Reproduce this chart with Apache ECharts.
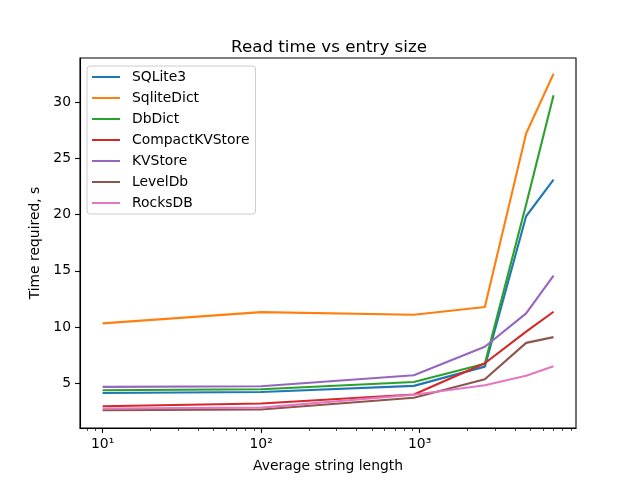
<!DOCTYPE html>
<html>
<head>
<meta charset="utf-8">
<script src="https://cdn.jsdelivr.net/npm/echarts@6/dist/echarts.min.js"></script>
<style>html,body{margin:0;padding:0;background:#fff}#c{width:640px;height:480px}</style>
</head>
<body>
<div id="c"></div>
<script>
const xValues = [10, 100, 920, 2580, 4700, 7000];
const seriesNames = ['SQLite3', 'SqliteDict', 'DbDict', 'CompactKVStore', 'KVStore', 'LevelDb', 'RocksDB'];
const sqlite3 = [4.16, 4.25, 4.79, 6.5, 19.85, 23.1];
const sqliteDict = [10.34, 11.34, 11.1, 11.8, 27.2, 32.5];
const dbDict = [4.4, 4.49, 5.14, 6.75, 20.9, 30.6];
const compactKVStore = [2.98, 3.22, 4.02, 6.8, 9.6, 11.37];
const kvStore = [4.7, 4.76, 5.74, 8.26, 11.23, 14.57];
const levelDb = [2.62, 2.69, 3.73, 5.38, 8.61, 9.12];
const rocksDB = [2.78, 2.86, 4.0, 4.85, 5.68, 6.54];
const xMajorTicks = [10, 100, 1000];
const xMinorTicks = [8, 9, 20, 30, 40, 50, 60, 70, 80, 90, 200, 300, 400, 500, 600, 700, 800, 900, 2000, 3000, 4000, 5000, 6000, 7000, 8000, 9000];
const yTicks = [5, 10, 15, 20, 25, 30];
const colors = ['#1f77b4', '#ff7f0e', '#2ca02c', '#d62728', '#9467bd', '#8c564b', '#e377c2'];

const allValues = [sqlite3, sqliteDict, dbDict, compactKVStore, kvStore, levelDb, rocksDB];
const font = 'DejaVu Sans';
const sup = {'1': '\u00b9', '2': '\u00b2', '3': '\u00b3'};

const chart = echarts.init(document.getElementById('c'), null, {renderer: 'canvas'});
const xMin = 7.2, xMax = 9700;
chart.setOption({
  backgroundColor: '#ffffff',
  animation: false,
  title: {
    text: 'Read time vs entry size',
    left: 324, top: 34, textAlign: 'center',
    textStyle: {fontFamily: font, fontSize: 16.7, fontWeight: 'normal', color: '#000'}
  },
  legend: {
    orient: 'vertical', left: 87, top: 66,
    data: seriesNames,
    itemWidth: 28, itemHeight: 2, itemGap: 7,
    icon: 'rect',
    padding: [4, 6, 4, 5],
    backgroundColor: '#fff', borderColor: '#cccccc', borderWidth: 1, borderRadius: 3,
    textStyle: {fontFamily: font, fontSize: 13.9, color: '#000', padding: [0, 0, 0, 7]}
  },
  grid: {left: 80, right: 64, top: 58, bottom: 52, show: true, borderColor: '#000', borderWidth: 1.1, backgroundColor: 'transparent'},
  xAxis: [{
    type: 'log', logBase: 10, min: xMin, max: xMax,
    name: 'Average string length', nameLocation: 'middle', nameGap: 31,
    nameTextStyle: {fontFamily: font, fontSize: 13.9, color: '#000'},
    axisLine: {lineStyle: {color: '#000', width: 1.1}},
    axisTick: {length: 4.9, lineStyle: {color: '#000', width: 1.1}, customValues: xMajorTicks},
    axisLabel: {fontFamily: font, fontSize: 13.9, color: '#000', margin: 9, customValues: xMajorTicks,
      formatter: v => '10' + sup[String(Math.round(Math.log10(v)))]},
    splitLine: {show: false}, minorTick: {show: false}
  }, {
    type: 'log', logBase: 10, min: xMin, max: xMax, position: 'bottom',
    axisLine: {show: false},
    axisTick: {length: 2.8, lineStyle: {color: '#000', width: 0.8}, customValues: xMinorTicks},
    axisLabel: {show: false},
    splitLine: {show: false}
  }],
  yAxis: {
    type: 'value', min: 1.05, max: 33.9,
    name: 'Time required, s', nameLocation: 'middle', nameGap: 34,
    nameTextStyle: {fontFamily: font, fontSize: 13.9, color: '#000'},
    axisLine: {show: true, lineStyle: {color: '#000', width: 1.1}},
    axisTick: {show: true, length: 4.9, lineStyle: {color: '#000', width: 1.1}, customValues: yTicks},
    axisLabel: {fontFamily: font, fontSize: 13.9, color: '#000', margin: 9, customValues: yTicks},
    splitLine: {show: false}
  },
  series: seriesNames.map((name, i) => ({
    name, type: 'line', xAxisIndex: 0,
    data: xValues.map((x, j) => [x, allValues[i][j]]),
    showSymbol: false, symbol: 'none',
    lineStyle: {color: colors[i], width: 2.1},
    itemStyle: {color: colors[i]}
  }))
});
</script>
</body>
</html>
